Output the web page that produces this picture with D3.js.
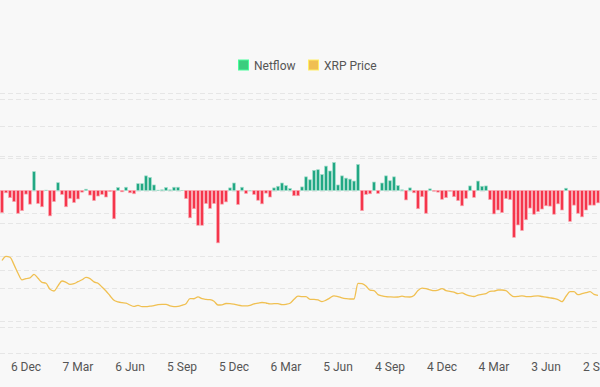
<!DOCTYPE html>
<html>
<head>
<meta charset="utf-8">
<script src="https://cdn.jsdelivr.net/npm/d3@7"></script>
<style>
  html, body { margin: 0; padding: 0; background: #f8f8f8; }
  svg { display: block; font-family: Roboto, "Noto Sans", sans-serif; }
</style>
</head>
<body>
<svg id="chart"></svg>
<script>
var width = 600;
var height = 387;

// weekly XRP exchange netflow (arbitrary units)
var netflow = [
  -68, -7, -22, -34, -70, -62, -11, -42, 58, -40,
  -50, 1, -78, -34, 24, -12, -50, -24, -37, -26,
  -5, 4, -14, -31, -17, -12, -20, -3, -87, 9,
  -4, 10, -7, -10, 21, 21, 45, 40, 17, 1,
  2, 9, 2, 10, 10, 0.5, -25, -84, -56, -107,
  -107, -40, -55, -40, -161, -42, -35, 8, 23, -43,
  10, -9, 0.5, -12, -30, -41, -8, -20, 8, 13,
  23, 15, 6, -16, -16, 11, 42, 33, 62, 64,
  49, 75, 60, 86, 17, 45, 38, 35, 29, 80,
  -62, -12, -10, 26, -9, 23, 45, 30, 42, 15,
  2, -29, 8, -7, -56, -19, -70, 5, -2, -5,
  -27, -22, -2, -19, -31, -47, -24, 14, -21, 29,
  13, 14, -28, -72, -60, -68, -25, -28, -144, -106,
  -123, -90, -54, -73, -65, -57, -47, -48, -73, -41,
  -60, 7, -95, -45, -70, -81, -60, -45, -45, -38
];

// XRP price (USD) at the same weeks
var price = [
  1.167, 1.240, 1.223, 1.095, 0.942, 0.826, 0.849, 0.860, 0.923, 0.854,
  0.784, 0.768, 0.661, 0.632, 0.723, 0.807, 0.784, 0.749, 0.760, 0.795,
  0.828, 0.872, 0.849, 0.791, 0.767, 0.702, 0.632, 0.549, 0.468, 0.440,
  0.426, 0.418, 0.386, 0.361, 0.381, 0.356, 0.356, 0.365, 0.375, 0.391,
  0.398, 0.398, 0.370, 0.356, 0.361, 0.381, 0.409, 0.498, 0.496, 0.528,
  0.496, 0.484, 0.479, 0.451, 0.386, 0.389, 0.412, 0.411, 0.400, 0.382,
  0.372, 0.370, 0.381, 0.405, 0.418, 0.430, 0.421, 0.404, 0.411, 0.409,
  0.391, 0.398, 0.416, 0.486, 0.540, 0.532, 0.532, 0.486, 0.486, 0.474,
  0.446, 0.470, 0.511, 0.547, 0.533, 0.511, 0.498, 0.491, 0.491, 0.767,
  0.760, 0.719, 0.647, 0.639, 0.568, 0.547, 0.533, 0.528, 0.525, 0.526,
  0.540, 0.528, 0.526, 0.554, 0.639, 0.681, 0.672, 0.653, 0.639, 0.649,
  0.675, 0.639, 0.626, 0.611, 0.584, 0.600, 0.567, 0.546, 0.535, 0.561,
  0.572, 0.584, 0.626, 0.630, 0.649, 0.649, 0.640, 0.575, 0.532, 0.537,
  0.547, 0.533, 0.532, 0.542, 0.546, 0.535, 0.523, 0.512, 0.500, 0.482,
  0.444, 0.539, 0.619, 0.619, 0.567, 0.584, 0.602, 0.619, 0.572, 0.554
];

var firstWeek = "2021-10-25";
var tickLabels = ["2021-12-06", "2022-03-07", "2022-06-06", "2022-09-05",
  "2022-12-05", "2023-03-06", "2023-06-05", "2023-09-04", "2023-12-04",
  "2024-03-04", "2024-06-03", "2024-09-02"];
var netTicks = [-500, -400, -300, -200, -100, 0, 100, 200, 300];
var priceTicks = [0, 1, 2, 3, 4];
var seriesNames = ["Netflow", "XRP Price"];

var parse = d3.utcParse("%Y-%m-%d");
var start = parse(firstWeek);
var weeks = netflow.map(function(v, i){ return d3.utcWeek.offset(start, i); });

var svg = d3.select('#chart')
    .attr('width', width)
    .attr('height', height);

svg.append('rect')
    .attr('width', width)
    .attr('height', height)
    .attr('fill', '#f8f8f8');

var x = d3.scaleBand()
    .domain(weeks)
    .range([0, width])
    .paddingInner(0.33)
    .paddingOuter(0.165);

var yNet = d3.scaleLinear().domain([-500, 300]).range([353, 93]);
var yPrice = d3.scaleLinear().domain([0, 4]).range([327, 99]);

// grid lines for both axes
svg.append('g').selectAll('line')
    .data(netTicks)
    .join('line')
    .attr('x1', 0).attr('x2', width)
    .attr('y1', function(d){ return Math.round(yNet(d)) + 0.5; })
    .attr('y2', function(d){ return Math.round(yNet(d)) + 0.5; })
    .attr('stroke', '#e6e6e6')
    .attr('stroke-dasharray', '5,3');

svg.append('g').selectAll('line')
    .data(priceTicks)
    .join('line')
    .attr('x1', 0).attr('x2', width)
    .attr('y1', function(d){ return Math.round(yPrice(d)) + 0.5; })
    .attr('y2', function(d){ return Math.round(yPrice(d)) + 0.5; })
    .attr('stroke', '#e6e6e6')
    .attr('stroke-dasharray', '5,3');

// netflow bars
svg.append('g').selectAll('rect')
    .data(netflow)
    .join('rect')
    .attr('x', function(d, i){ return x(weeks[i]); })
    .attr('width', x.bandwidth())
    .attr('y', function(d){ return yNet(Math.max(0, d)); })
    .attr('height', function(d){ return Math.abs(yNet(d) - yNet(0)); })
    .attr('fill', function(d){ return d >= 0 ? '#22a884' : '#f5364b'; })
    .attr('stroke', function(d){ return d >= 0 ? '#9fdcc8' : '#f9a3ad'; })
    .attr('stroke-width', 0.7);

// price line
var line = d3.line()
    .x(function(d, i){ return x(weeks[i]) + x.bandwidth() / 2; })
    .y(function(d){ return yPrice(d); })
    .curve(d3.curveMonotoneX);

svg.append('path')
    .datum(price)
    .attr('d', line)
    .attr('fill', 'none')
    .attr('stroke', '#f0c052')
    .attr('stroke-width', 1.3);

// x axis
var xAxis = d3.axisBottom(x)
    .tickValues(tickLabels.map(function(s){ return weeks.find(function(w){ return +w === +parse(s); }); }))
    .tickFormat(d3.utcFormat('%-d %b'))
    .tickSize(0)
    .tickPadding(9);

var gx = svg.append('g')
    .attr('transform', 'translate(0,353)')
    .call(xAxis);
gx.select('.domain').remove();
gx.selectAll('text')
    .attr('fill', '#555')
    .style('font-size', '12px')
    .style('font-family', 'Roboto, sans-serif');

// legend
var legendColors = ['#3ccd7e', '#f0bf52'];
var legendX = [238.5, 308.5];
var legend = svg.append('g');
for (var i = 0; i < seriesNames.length; i++) {
    legend.append('rect')
        .attr('x', legendX[i])
        .attr('y', 60)
        .attr('width', 10)
        .attr('height', 10)
        .attr('fill', legendColors[i])
        .attr('stroke', d3.color(legendColors[i]).brighter(0.6))
        .attr('stroke-width', 1);
    legend.append('text')
        .attr('x', legendX[i] + 15.5)
        .attr('y', 69.5)
        .attr('fill', '#555')
        .style('font-size', '12px')
        .text(seriesNames[i]);
}
</script>
</body>
</html>
